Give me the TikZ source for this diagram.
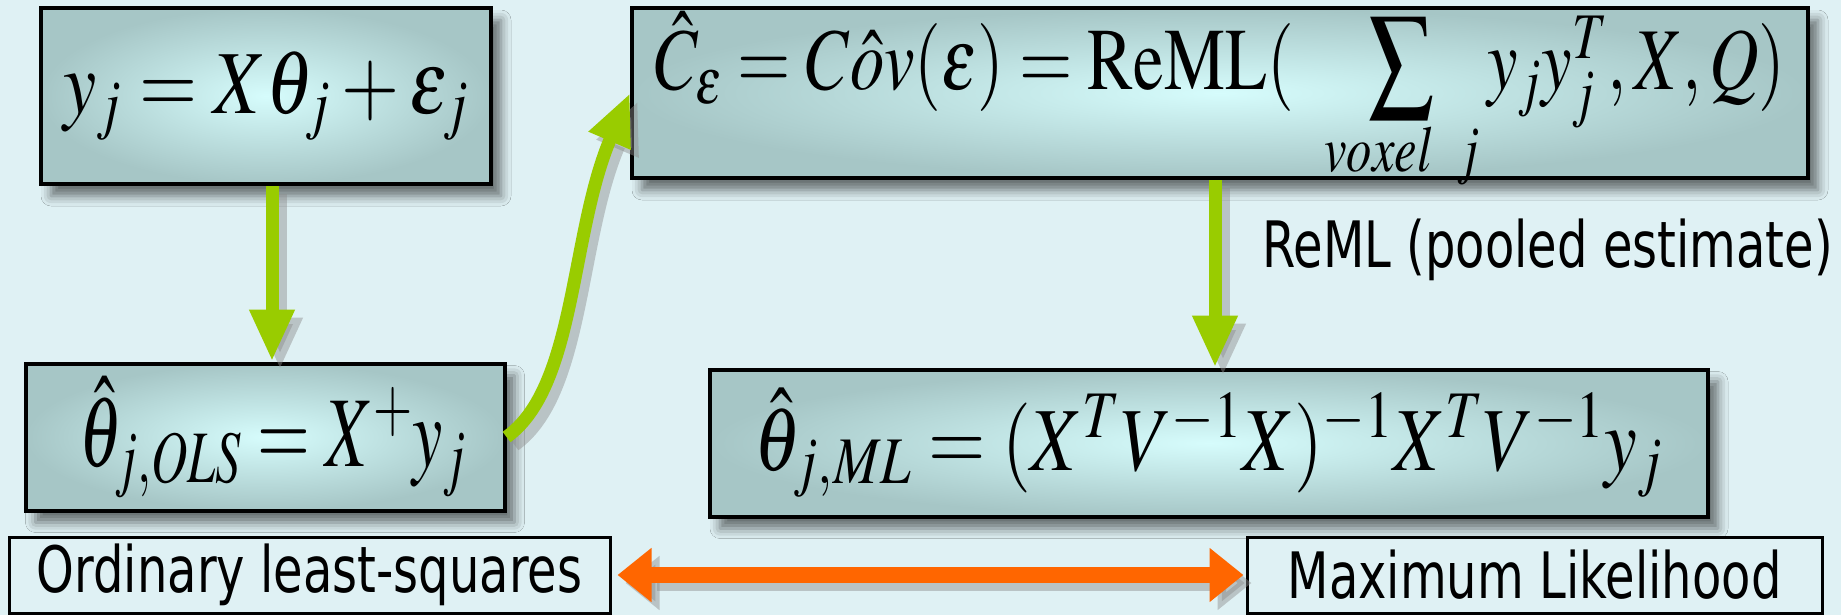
\documentclass[tikz,border=0pt]{standalone}
\usepackage{mathptmx}
\usepackage[no-math]{fontspec}
\usepackage{graphicx}
\newfontfamily\labfont{DejaVu Sans}
\usetikzlibrary{arrows.meta,shadows.blur,calc}
\definecolor{bgc}{RGB}{223,241,244}
\definecolor{boxin}{RGB}{214,252,252}
\definecolor{boxout}{RGB}{166,198,198}
\definecolor{agreen}{RGB}{153,204,0}
\definecolor{aorange}{RGB}{255,102,0}
\newcommand{\bigsum}{\mathop{\vcenter{\hbox{\scalebox{1.35}{$\textstyle\sum$}}}}}
\tikzset{
  eqbox/.style={draw=black, line width=2pt, shading=radial, inner color=boxin, outer color=boxout,
    blur shadow={shadow xshift=5pt, shadow yshift=-6pt, shadow blur radius=5pt, shadow opacity=55},
    inner sep=0pt, anchor=center},
  labbox/.style={draw=black, line width=1.5pt, fill=bgc, inner sep=0pt, anchor=center,
    font=\labfont\fontsize{32}{38}\selectfont},
  garrow/.style={draw=agreen, line width=6.5pt, -{Triangle[width=21pt,length=26pt]}},
  gshadow/.style={draw=black!45, opacity=0.45, line width=6.5pt, -{Triangle[width=21pt,length=26pt]},
    transform canvas={shift={(4pt,-4pt)}}},
  oarrow/.style={draw=aorange, line width=8pt, {Triangle[width=26pt,length=17pt]}-{Triangle[width=26pt,length=17pt]}},
  oshadow/.style={draw=black!45, opacity=0.45, line width=8pt, {Triangle[width=26pt,length=17pt]}-{Triangle[width=26pt,length=17pt]},
    transform canvas={shift={(4pt,-4pt)}}},
}
\begin{document}
\begin{tikzpicture}[x=0.5pt,y=-0.5pt]
\fill[bgc] (0,0) rectangle (1841,615);
\useasboundingbox (0,0) rectangle (1841,615);

\node[eqbox, font=\fontsize{45}{54}\selectfont, minimum width=225pt, minimum height=88pt] (b1) at (266,96)
  {\scalebox{0.83}[1]{$y_j = X\theta_j + \varepsilon_j$}};
\node[eqbox, font=\fontsize{44}{53}\selectfont, minimum width=588pt, minimum height=85pt,
  text height=20pt, text depth=23pt] (b2) at (1220,93)
  {\scalebox{0.78}[1]{$\hat{C}_{\varepsilon} = C\hat{o}v(\varepsilon) = \mathrm{ReML}(\;\;\bigsum\limits_{\rule{0pt}{15pt}\smash{voxel\;\;j}} y_j y_j^T, X, Q)$}};
\node[eqbox, font=\fontsize{50}{60}\selectfont, minimum width=239.5pt, minimum height=73.5pt] (b3) at (265,437)
  {\hspace*{8pt}\scalebox{0.68}[1]{$\hat{\theta}_{j,OLS} = X^{+} y_j$}};
\node[eqbox, font=\fontsize{45}{54}\selectfont, minimum width=499pt, minimum height=73.5pt] (b4) at (1209,443)
  {\scalebox{0.82}[1]{$\hat{\theta}_{j,ML} = (X^T V^{-1} X)^{-1} X^T V^{-1} y_j$}};

\node[labbox, minimum width=300.5pt, minimum height=38pt] (l1) at (309.5,575)
  {\scalebox{0.75}[1]{Ordinary least-squares}};
\node[labbox, minimum width=287.5pt, minimum height=38pt] (l2) at (1534.5,575)
  {\scalebox{0.75}[1]{Maximum Likelihood}};

\node[anchor=west, inner sep=0pt, font=\labfont\fontsize{32}{38}\selectfont] (rl) at (1262,250)
  {\scalebox{0.75}[1]{ReML (pooled estimate)}};

% shadows of connectors
\draw[gshadow] ($(b1.south)+(6,0)$) -- ($(b1.south |- b3.north)+(6,0)$);
\draw[gshadow] ($(b2.south)+(-5,0)$) -- ($(b2.south |- b4.north)+(-5,0)$);
\draw[gshadow] (b3.east) .. controls +(70,-50) and +(-60,140) .. (b2.west);
\draw[oshadow] ($(l1.east)+(6,0)$) -- ($(l2.west)+(-2,0)$);

% connectors
\draw[garrow] ($(b1.south)+(6,0)$) -- ($(b1.south |- b3.north)+(6,0)$);
\draw[garrow] ($(b2.south)+(-5,0)$) -- ($(b2.south |- b4.north)+(-5,0)$);
\draw[garrow] (b3.east) .. controls +(70,-50) and +(-60,140) .. (b2.west);
\draw[oarrow] ($(l1.east)+(6,0)$) -- ($(l2.west)+(-2,0)$);
\end{tikzpicture}
\end{document}
